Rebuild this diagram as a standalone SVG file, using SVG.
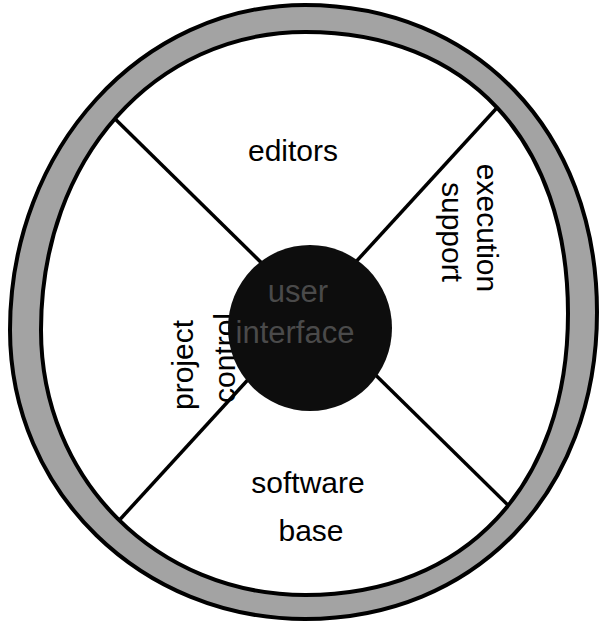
<svg xmlns="http://www.w3.org/2000/svg" width="600" height="621" viewBox="0 0 600 621">
<style>
.lbl{font-family:"Liberation Sans",Arial,sans-serif;font-size:30px;fill:#000;text-anchor:middle}
.ctr{font-family:"Liberation Sans",Arial,sans-serif;font-size:31px;fill:#4a4a4a;text-anchor:middle}
.spoke{stroke:#000;stroke-width:3.5;fill:none}
</style>
<rect width="600" height="621" fill="#fff"/>
<g id="connectors">
<line class="spoke" x1="105" y1="109" x2="516" y2="513"/>
<line class="spoke" x1="505" y1="99" x2="114" y2="526"/>
</g>
<g id="ring">
<path fill="#a3a3a3" fill-rule="evenodd" stroke="#000" stroke-width="4" d="M305,5 C474,5 597,130 597,312 C597,494 474,619 305,619 C142,619 10,492 10,330 C10,148 142,5 305,5 Z M305.5,32 C466.9,32 568,140.4 568,313.5 C568,485.2 465.6,595 305.5,595 C157.2,595 41,479.7 41,330 C41,158.7 154.6,32 305.5,32 Z"/>
</g>
<g id="editors"><text class="lbl" x="293" y="161">editors</text></g>
<g id="execution-support"><text class="lbl" transform="translate(477,228) rotate(90)"><tspan x="0" y="0">execution</tspan><tspan x="4" y="35">support</tspan></text></g>
<g id="software-base"><text class="lbl" x="308" y="493">software</text><text class="lbl" x="311" y="541">base</text></g>
<g id="project-control"><text class="lbl" transform="translate(193,365) rotate(-90)"><tspan x="0" y="0">project</tspan><tspan x="7" y="42">control</tspan></text></g>
<g id="user-interface">
<ellipse cx="310" cy="328" rx="82" ry="83" fill="#0d0d0d"/>
<text class="ctr" x="298" y="302">user</text>
<text class="ctr" x="295" y="343">interface</text>
</g>
</svg>
